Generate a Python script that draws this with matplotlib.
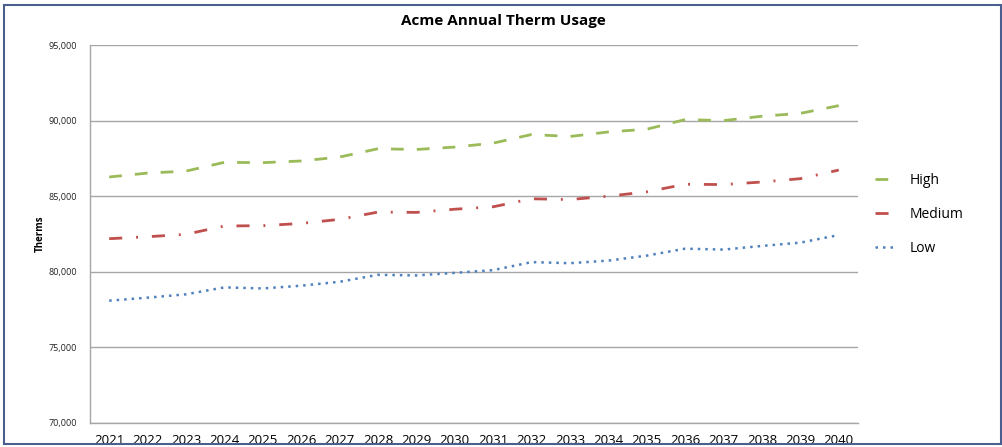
import matplotlib.pyplot as plt
from matplotlib.patches import Rectangle
from matplotlib.ticker import FuncFormatter

years = list(range(2021, 2041))

high = [86270, 86530, 86660, 87240, 87220, 87330, 87590, 88140, 88090, 88250,
        88510, 89080, 88950, 89250, 89430, 90070, 90000, 90290, 90480, 90990]
medium = [82190, 82320, 82480, 83030, 83050, 83200, 83470, 83950, 83930, 84140,
          84300, 84830, 84780, 85000, 85290, 85790, 85770, 85940, 86160, 86730]
low = [78090, 78290, 78510, 78970, 78900, 79080, 79340, 79800, 79760, 79930,
       80110, 80640, 80570, 80740, 81070, 81530, 81470, 81710, 81930, 82430]

plt.rcParams["font.family"] = ["Open Sans", "DejaVu Sans"]

fig = plt.figure(figsize=(10.03, 4.47), dpi=100)
ax = fig.add_axes([0.0897, 0.0537, 0.7657, 0.8456])

grid_color = "#A6A6A6"

(l_high,) = ax.plot(years, high, color="#9BBB59", lw=2.0, dashes=(4.6, 4.7),
                    dash_capstyle="butt", label="High")
(l_med,) = ax.plot(years, medium, color="#C0504D", lw=2.0, dashes=(4.7, 5.0, 0.7, 5.0),
                   dash_capstyle="butt", label="Medium")
(l_low,) = ax.plot(years, low, color="#4F81BD", lw=1.8, dashes=(1.0, 2.0),
                   dash_capstyle="butt", label="Low")

ax.set_xlim(2020.5, 2040.5)
ax.set_ylim(70000, 95000)
ax.set_yticks(range(70000, 95001, 5000))
ax.yaxis.set_major_formatter(FuncFormatter(lambda v, p: f"{int(v):,}"))
ax.set_xticks(years)
ax.set_xticklabels([str(y) for y in years], fontsize=9.5)
ax.tick_params(axis="x", length=0, pad=8, colors="#000000")
ax.tick_params(axis="y", length=0, labelsize=6.5, labelcolor="#222222", pad=9.5)

ax.grid(axis="y", color=grid_color, lw=1)
ax.set_axisbelow(True)
for side in ["top", "right"]:
    ax.spines[side].set_visible(False)
for side in ["left", "bottom"]:
    ax.spines[side].set_color(grid_color)
    ax.spines[side].set_linewidth(1)

ax.set_ylabel("Therms", fontsize=7, fontweight="bold", labelpad=2)

fig.text(0.502, 0.952, "Acme Annual Therm Usage", ha="center", va="center",
         fontsize=11, fontweight="bold")

fig.legend(handles=[l_high, l_med, l_low], loc="center left",
           bbox_to_anchor=(0.86, 0.52), frameon=False, fontsize=10,
           handlelength=1.6, handletextpad=0.9, labelspacing=1.35)

fig.patches.append(Rectangle((0.004, 0.007), 0.994, 0.982, transform=fig.transFigure,
                             fill=False, edgecolor="#4A5F8F", lw=1.5))

fig.savefig("out.png", dpi=100)
